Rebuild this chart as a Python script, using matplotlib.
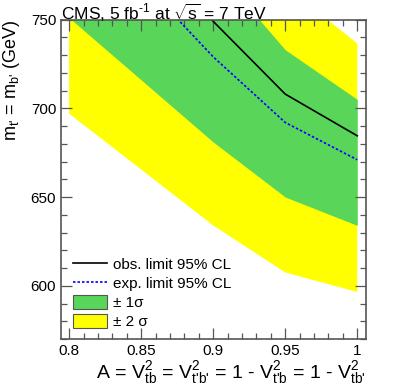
import matplotlib
matplotlib.use("Agg")
import matplotlib.pyplot as plt
from matplotlib.lines import Line2D
from matplotlib.patches import Patch
from matplotlib.ticker import MultipleLocator

plt.rcParams['font.family'] = ['Liberation Sans', 'DejaVu Sans']
plt.rcParams['mathtext.fontset'] = 'custom'
plt.rcParams['mathtext.rm'] = 'Liberation Sans'
plt.rcParams['mathtext.it'] = 'Liberation Sans:italic'
plt.rcParams['mathtext.sf'] = 'Liberation Sans'

# mixing parameter A and mass limits (GeV)
A = [0.80, 0.85, 0.90, 0.95, 1.00]
obs = [830, 790, 749, 708, 684.5]
exp = [810, 772, 729, 692, 671]
sig1_lo = [751, 716, 681, 650, 634]
sig1_hi = [830, 805, 780, 733, 705]
sig2_lo = [697, 665.5, 634, 607.5, 596.5]
sig2_hi = [860, 830, 800, 769, 736.5]

green = '#59d65a'
yellow = '#ffff00'

fig = plt.figure(figsize=(4.07, 3.91), dpi=100)
ax = fig.add_axes([0.150, 0.133, 0.749, 0.817])

ax.fill_between(A, sig2_lo, sig2_hi, color=yellow, lw=0)
ax.fill_between(A, sig1_lo, sig1_hi, color=green, lw=0)
ax.plot(A, obs, color='black', lw=1.2)
ax.plot(A, exp, color='blue', lw=1.2, ls=(0, (1.5, 1.2)))

ax.set_xlim(0.7944, 1.006)
ax.set_ylim(570, 750)
ax.xaxis.set_major_locator(MultipleLocator(0.05))
ax.xaxis.set_minor_locator(MultipleLocator(0.01))
ax.yaxis.set_major_locator(MultipleLocator(50))
ax.yaxis.set_minor_locator(MultipleLocator(10))
ax.set_xticks([0.8, 0.85, 0.9, 0.95, 1.0])
ax.set_xticklabels(['0.8', '0.85', '0.9', '0.95', '1'])
ax.tick_params(which='both', direction='in', top=True, right=True,
               color='#555555', labelsize=11)
ax.tick_params(which='major', length=8, width=0.9)
ax.tick_params(which='minor', length=4, width=0.9)
for s in ax.spines.values():
    s.set_color('#555555')
    s.set_linewidth(1.2)

ax.set_xlabel(r"A = V$_{\rm tb}^{2}$ = V$_{\text{t'b'}}^{2}$ = 1 - V$_{\text{t'b}}^{2}$ = 1 - V$_{\text{tb'}}^{2}$",
              fontsize=14, loc='right', labelpad=1)
ax.set_ylabel(r"m$_{\text{t'}}$ = m$_{\text{b'}}$ (GeV)", fontsize=13, loc='top', labelpad=6)

ax.text(0.0, 1.0, r"CMS, 5 fb$^{\text{-1}}$ at $\sqrt{\rm s}$ = 7 TeV",
        transform=ax.transAxes, ha='left', va='baseline', fontsize=12.5)

handles = [
    Line2D([], [], color='black', lw=1.2),
    Line2D([], [], color='blue', lw=1.2, ls=(0, (1.5, 1.2))),
    Patch(facecolor=green, edgecolor='#555555', lw=0.8),
    Patch(facecolor=yellow, edgecolor='#555555', lw=0.8),
]
labels = ['obs. limit 95% CL', 'exp. limit 95% CL', '± 1σ', '± 2 σ']
ax.legend(handles, labels, loc='lower left', bbox_to_anchor=(0.02, 0.012),
          frameon=False, fontsize=11, handlelength=2.2, handleheight=1.0,
          handletextpad=0.4, labelspacing=0.25, borderaxespad=0)

fig.savefig('out.png', dpi=100)
